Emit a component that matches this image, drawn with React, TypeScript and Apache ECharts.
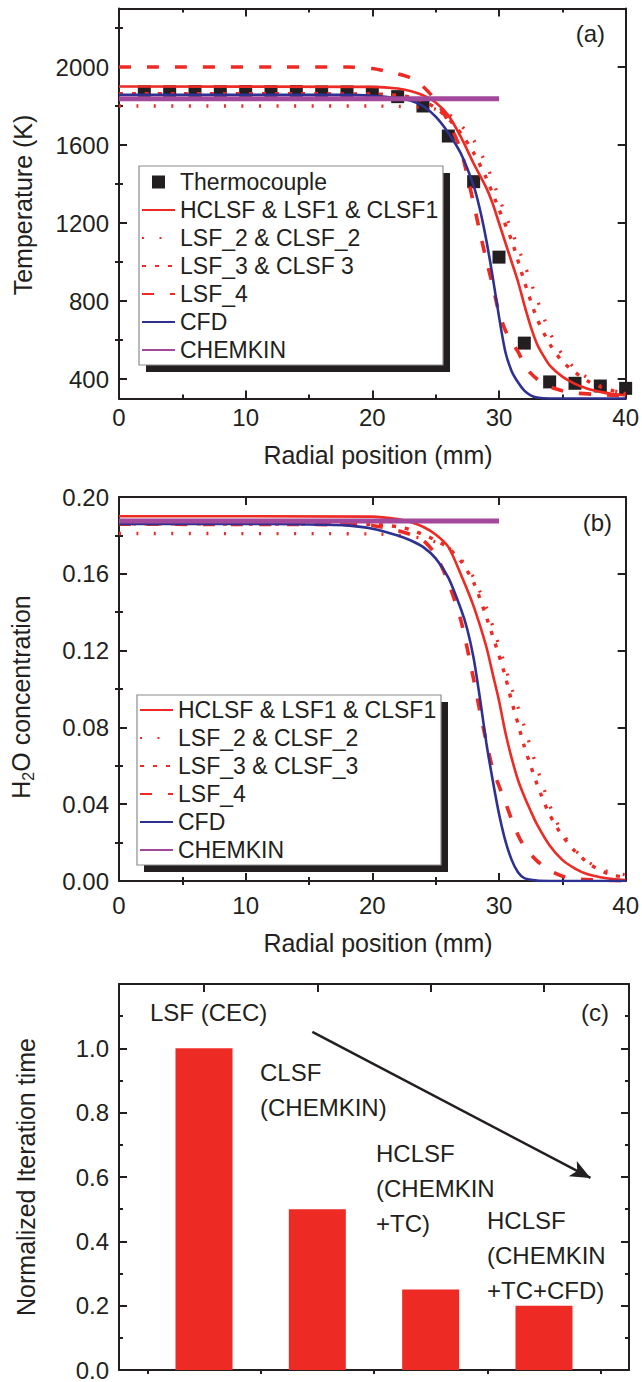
import React, { useEffect, useRef } from 'react';
import * as echarts from 'echarts';

const RED = '#ED2B24';
const BLUE = '#2E3192';
const PURPLE = '#A3499C';
const INK = '#231F20';
const FONT = "'Liberation Sans', Arial, Helvetica, sans-serif";

// ---------- Panel (a): temperature (K) vs radial position (mm)
const tcX = [2, 4, 6, 8, 10, 12, 14, 16, 18, 20, 22, 24, 26, 28, 30, 32, 34, 36, 38, 40];
const tcY = [1873, 1873, 1874, 1873, 1874, 1873, 1874, 1872, 1872, 1870, 1848, 1800, 1646, 1412, 1025, 584, 385, 378, 364, 352];

const aHCLSF = [[0, 1900], [20, 1898], [22, 1890], [23, 1877], [24, 1855], [25, 1818], [26, 1752], [27, 1640], [28, 1505], [29, 1380], [29.5, 1300], [30, 1200], [30.5, 1100], [31, 1000], [31.5, 900], [32, 780], [32.5, 670], [33, 580], [33.5, 520], [34, 470], [35, 412], [36, 375], [37, 350], [38, 334], [39, 323], [40, 316]];
const aLSF2 = [[0, 1800], [20, 1800], [22, 1798], [24, 1792], [25, 1784], [26, 1760], [27, 1700], [28, 1625], [29, 1500], [30, 1330], [31, 1160], [32, 990], [33, 810], [34, 640], [35, 525], [36, 455], [37, 405], [38, 365], [39, 340], [40, 330]];
const aLSF3 = [[0, 1863], [20, 1862], [22, 1855], [23, 1845], [24, 1825], [25, 1790], [26, 1735], [27, 1660], [28, 1560], [29, 1430], [30, 1270], [31, 1110], [32, 900], [33, 710], [34, 580], [35, 490], [36, 435], [37, 390], [38, 360], [39, 340], [40, 325]];
const aLSF4 = [[0, 2000], [18, 2000], [20, 1992], [21, 1980], [22, 1965], [23, 1945], [24, 1900], [25, 1830], [26, 1720], [27, 1570], [28, 1300], [28.5, 1150], [29, 1010], [29.5, 880], [30, 740], [30.5, 650], [31, 590], [31.5, 540], [32, 475], [32.5, 430], [33, 400], [33.5, 378], [34, 360], [35, 340], [36, 328], [38, 320], [40, 315]];
const aCFD = [[0, 1858], [18, 1857], [20, 1852], [22, 1840], [23, 1828], [24, 1800], [25, 1745], [26, 1662], [27, 1555], [28, 1390], [28.5, 1268], [29, 1112], [29.5, 925], [30, 720], [30.5, 540], [31, 440], [31.5, 383], [32, 340], [32.5, 316], [33, 305], [34, 300], [40, 300]];
const aCHEMKIN = [[0, 1837], [30, 1837]];

// ---------- Panel (b): H2O concentration vs radial position (mm)
const bHCLSF = [[0, 0.190], [20, 0.1898], [22, 0.1885], [23, 0.187], [24, 0.1845], [25, 0.1805], [26, 0.174], [27, 0.1595], [28, 0.143], [29, 0.122], [29.5, 0.108], [30, 0.094], [30.5, 0.0775], [31, 0.064], [31.5, 0.0526], [32, 0.044], [32.5, 0.0365], [33, 0.0295], [34, 0.0185], [35, 0.011], [36, 0.0065], [37, 0.0035], [38, 0.002], [39, 0.001], [40, 0.0005]];
const bLSF2 = [[0, 0.181], [20, 0.1808], [22, 0.180], [24, 0.1785], [25, 0.1765], [26, 0.1735], [27, 0.1675], [28, 0.158], [29, 0.1425], [30, 0.1225], [31, 0.1005], [32, 0.0805], [32.5, 0.0695], [33, 0.059], [33.5, 0.049], [34, 0.0395], [34.5, 0.0315], [35, 0.025], [36, 0.0162], [37, 0.0102], [38, 0.0062], [39, 0.0042], [40, 0.0032]];
const bLSF3 = [[0, 0.186], [20, 0.1858], [22, 0.1845], [23, 0.183], [24, 0.1805], [25, 0.1775], [26, 0.1735], [27, 0.1665], [28, 0.1555], [29, 0.1375], [30, 0.1175], [30.5, 0.1065], [31, 0.0935], [31.5, 0.082], [32, 0.07], [32.5, 0.06], [33, 0.0505], [33.5, 0.042], [34, 0.0345], [35, 0.0235], [36, 0.0155], [37, 0.0095], [38, 0.0055], [39, 0.003], [40, 0.002]];
const bLSF4 = [[0, 0.1858], [18, 0.1856], [20, 0.1852], [22, 0.1825], [23, 0.1805], [24, 0.1775], [25, 0.170], [26, 0.1555], [27, 0.1355], [28, 0.105], [28.5, 0.088], [29, 0.0725], [29.5, 0.0585], [30, 0.0495], [30.5, 0.041], [31, 0.032], [31.5, 0.024], [32, 0.018], [33, 0.0105], [34, 0.0055], [35, 0.0025], [36, 0.0012], [38, 0.0004], [40, 0.0002]];
const bCFD = [[0, 0.186], [10, 0.186], [14, 0.1858], [16, 0.1856], [18, 0.1852], [20, 0.1835], [22, 0.180], [23, 0.1775], [24, 0.174], [25, 0.168], [26, 0.158], [27, 0.1415], [27.5, 0.131], [28, 0.116], [28.5, 0.095], [29, 0.072], [29.5, 0.0526], [30, 0.035], [30.5, 0.021], [31, 0.011], [31.5, 0.0045], [32, 0.0015], [33, 0.0002], [34, 0], [40, 0]];
const bCHEMKIN = [[0, 0.1875], [30, 0.1875]];

// ---------- Panel (c): normalized iteration time
const barX = [1, 2, 3, 4];
const barY = [1.0, 0.5, 0.25, 0.2];
const barNotes = ['LSF (CEC)', 'CLSF\n(CHEMKIN)', 'HCLSF\n(CHEMKIN\n+TC)', 'HCLSF\n(CHEMKIN\n+TC+CFD)'];
const arrowFrom = [1.956, 1.051];
const arrowTo = [4.41, 0.597];

// ---------- Axis ticks / labels
const X_MAJOR = [0, 10, 20, 30, 40];
const X_MINOR = [5, 15, 25, 35];
const A_Y_LABELS = [400, 800, 1200, 1600, 2000];
const A_Y_MINOR = [600, 1000, 1400, 1800, 2200];
const B_Y_LABELS = [0, 0.04, 0.08, 0.12, 0.16, 0.2];
const B_Y_MINOR = [0.02, 0.06, 0.1, 0.14, 0.18];
const C_Y_LABELS = [0, 0.2, 0.4, 0.6, 0.8, 1.0];
const C_Y_MINOR = [0.1, 0.3, 0.5, 0.7, 0.9, 1.1];
const C_X_MAJOR = [1, 2, 3, 4];
const C_X_MINOR = [0.5, 1.5, 2.5, 3.5, 4.5];

const LABEL_SIZE = 24;
const LEGEND_SIZE = 23;
const TITLE_SIZE = 25;

function axesFor(dim: 'x' | 'y', gridIndex: number, min: number, max: number, labels: number[], major: number[], minor: number[], fmt: (v: number) => string, margin: number, mainTicks = true) {
  const pos = dim === 'x' ? ['bottom', 'top'] : ['left', 'right'];
  const base = { type: 'value', gridIndex, min, max, splitLine: { show: false } };
  const line = { show: true, onZero: false, lineStyle: { color: INK, width: 2 } };
  const tick = (vals: number[], len: number, show = true) => ({ show: show && vals.length > 0, inside: true, length: len, customValues: vals, lineStyle: { color: INK, width: 2 } });
  return [
    { ...base, position: pos[0], axisLine: line, axisTick: tick(major, 8, mainTicks), axisLabel: { show: labels.length > 0, customValues: labels, formatter: fmt, margin, fontSize: LABEL_SIZE, color: INK, fontFamily: FONT } },
    { ...base, position: pos[0], axisLine: { show: false }, axisTick: tick(minor, 4, mainTicks), axisLabel: { show: false } },
    { ...base, position: pos[1], axisLine: line, axisTick: tick(major, 8), axisLabel: { show: false } },
    { ...base, position: pos[1], axisLine: { show: false }, axisTick: tick(minor, 4), axisLabel: { show: false } },
  ];
}

function lineSeries(name: string, data: number[][], g: number, color: string, width: number, type: any) {
  return {
    type: 'line', name, data, xAxisIndex: g * 4, yAxisIndex: g * 4,
    symbol: 'none', showSymbol: false, smooth: 0.25, clip: true, silent: true,
    lineStyle: { color, width, type, cap: 'butt' }, itemStyle: { color },
  };
}

const DASH2 = [2, 15.5];
const DASH3 = [4, 9];
const DASH4 = [12, 16];

function textEl(text: string, x: number, y: number, opts: any = {}) {
  return {
    type: 'text', x, y, z: 10, rotation: opts.rotation || 0,
    style: { text, fill: INK, fontSize: opts.fontSize || TITLE_SIZE, fontFamily: FONT, align: opts.align || 'left', verticalAlign: opts.verticalAlign || 'middle', lineHeight: opts.lineHeight, rich: opts.rich },
  };
}

function legendBox(x: number, y: number, w: number, h: number) {
  return [
    { type: 'rect', z: 3, shape: { x: x + 7, y: y + 7, width: w, height: h }, style: { fill: INK } },
    { type: 'rect', z: 3, shape: { x, y, width: w, height: h }, style: { fill: '#fff', stroke: '#8C8C8C', lineWidth: 1.2 } },
  ];
}

function buildOption() {
  const xAxis = [
    ...axesFor('x', 0, 0, 40, X_MAJOR, X_MAJOR, X_MINOR, (v) => String(v), 7),
    ...axesFor('x', 1, 0, 40, X_MAJOR, X_MAJOR, X_MINOR, (v) => String(v), 12),
    ...axesFor('x', 2, 0.25, 4.75, [], C_X_MAJOR, C_X_MINOR, (v) => String(v), 8, false),
  ];
  const yAxis = [
    ...axesFor('y', 0, 300, 2300, A_Y_LABELS, A_Y_LABELS, A_Y_MINOR, (v) => String(v), 10),
    ...axesFor('y', 1, 0, 0.2, B_Y_LABELS, B_Y_LABELS, B_Y_MINOR, (v) => v.toFixed(2), 10),
    ...axesFor('y', 2, 0, 1.2, C_Y_LABELS, C_Y_LABELS, C_Y_MINOR, (v) => v.toFixed(1), 10),
  ];

  const series: any[] = [
    {
      type: 'scatter', name: 'Thermocouple', xAxisIndex: 0, yAxisIndex: 0, silent: true,
      data: tcX.map((x, i) => [x, tcY[i]]), symbol: 'rect', symbolSize: 13, itemStyle: { color: INK, opacity: 1 },
    },
    lineSeries('HCLSF & LSF1 & CLSF1', aHCLSF, 0, RED, 2.6, 'solid'),
    lineSeries('LSF_2 & CLSF_2', aLSF2, 0, RED, 3.3, DASH2),
    lineSeries('LSF_3 & CLSF 3', aLSF3, 0, RED, 3.4, DASH3),
    lineSeries('LSF_4', aLSF4, 0, RED, 3.6, DASH4),
    lineSeries('CFD', aCFD, 0, BLUE, 2.6, 'solid'),
    lineSeries('CHEMKIN', aCHEMKIN, 0, PURPLE, 5, 'solid'),

    lineSeries('HCLSF & LSF1 & CLSF1', bHCLSF, 1, RED, 2.6, 'solid'),
    lineSeries('LSF_2 & CLSF_2', bLSF2, 1, RED, 3.3, DASH2),
    lineSeries('LSF_3 & CLSF_3', bLSF3, 1, RED, 3.4, DASH3),
    lineSeries('LSF_4', bLSF4, 1, RED, 3.6, DASH4),
    lineSeries('CFD', bCFD, 1, BLUE, 2.6, 'solid'),
    lineSeries('CHEMKIN', bCHEMKIN, 1, PURPLE, 5, 'solid'),

    {
      type: 'bar', name: 'Iteration time', xAxisIndex: 8, yAxisIndex: 8, silent: true,
      data: barX.map((x, i) => [x, barY[i]]), barWidth: 57, itemStyle: { color: RED },
      markLine: {
        silent: true, animation: false, symbol: ['none', 'arrow'], symbolSize: [13, 20],
        label: { show: false }, lineStyle: { color: INK, width: 2.5, type: 'solid' },
        emphasis: { disabled: true },
        data: [[{ coord: arrowFrom }, { coord: arrowTo }]],
      },
    },
  ];

  const legendText = { fontSize: LEGEND_SIZE, color: INK, fontFamily: FONT, lineHeight: 28 };
  const lineItem = (name: string) => ({ name, itemStyle: { opacity: 0 } });
  const legendBase = { orient: 'vertical', padding: 0, itemGap: 0, itemWidth: 33, itemHeight: 13, selectedMode: false, symbolKeepAspect: true, textStyle: legendText, z: 5 };

  const graphic: any[] = [
    ...legendBox(139, 166, 304, 199),
    ...legendBox(137, 695, 304, 170),
    textEl('(a)', 605, 33, { align: 'right', fontSize: LABEL_SIZE }),
    textEl('(b)', 612, 522, { align: 'right', fontSize: LABEL_SIZE }),
    textEl('(c)', 609, 1012, { align: 'right', fontSize: LABEL_SIZE }),
    textEl('Radial position (mm)', 378, 455, { align: 'center' }),
    textEl('Radial position (mm)', 378, 943, { align: 'center' }),
    textEl('Temperature (K)', 23, 205, { align: 'center', rotation: Math.PI / 2 }),
    textEl('{n|H}{s|2}{n|O concentration}', 21, 697, {
      align: 'center', rotation: Math.PI / 2,
      rich: { n: { fontSize: TITLE_SIZE, fontFamily: FONT, fill: INK, lineHeight: 30 }, s: { fontSize: 16, fontFamily: FONT, fill: INK, lineHeight: 14, verticalAlign: 'bottom' } },
    }),
    textEl('Normalized Iteration time', 26, 1177, { align: 'center', rotation: Math.PI / 2 }),
    textEl(barNotes[0], 150, 994.5, { verticalAlign: 'top', lineHeight: 35, fontSize: LABEL_SIZE }),
    textEl(barNotes[1], 260, 1054.5, { verticalAlign: 'top', lineHeight: 35, fontSize: LABEL_SIZE }),
    textEl(barNotes[2], 376, 1135.5, { verticalAlign: 'top', lineHeight: 35, fontSize: LABEL_SIZE }),
    textEl(barNotes[3], 487, 1202.5, { verticalAlign: 'top', lineHeight: 35, fontSize: LABEL_SIZE }),
  ];

  return {
    animation: false,
    backgroundColor: '#fff',
    textStyle: { fontFamily: FONT },
    grid: [
      { left: 119, width: 510, top: 8.5, height: 390 },
      { left: 119, width: 510, top: 497, height: 384 },
      { left: 119, width: 510, top: 984, height: 386 },
    ],
    xAxis, yAxis, series, graphic,
    legend: [
      {
        ...legendBase, left: 141, top: 168,
        data: [
          { name: 'Thermocouple', icon: 'path://M0 0H10V10H0Z' },
          lineItem('HCLSF & LSF1 & CLSF1'), lineItem('LSF_2 & CLSF_2'), lineItem('LSF_3 & CLSF 3'),
          lineItem('LSF_4'), lineItem('CFD'), lineItem('CHEMKIN'),
        ],
      },
      {
        ...legendBase, left: 139, top: 696,
        data: [
          lineItem('HCLSF & LSF1 & CLSF1'), lineItem('LSF_2 & CLSF_2'), lineItem('LSF_3 & CLSF_3'),
          lineItem('LSF_4'), lineItem('CFD'), lineItem('CHEMKIN'),
        ],
      },
    ],
  };
}

export default function App() {
  const ref = useRef<HTMLDivElement>(null);
  useEffect(() => {
    document.body.style.margin = '0';
    const chart = echarts.init(ref.current!, undefined, { renderer: 'svg' });
    chart.setOption(buildOption() as any);
    return () => chart.dispose();
  }, []);
  return <div ref={ref} style={{ width: 642, height: 1382, background: '#fff' }} />;
}
